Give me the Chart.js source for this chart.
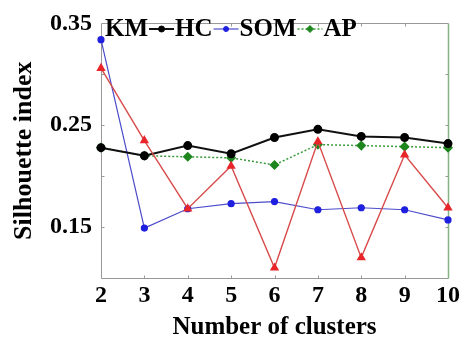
<!DOCTYPE html>
<html>
<head>
<meta charset="utf-8">
<script src="https://cdn.jsdelivr.net/npm/chart.js@4.4.0/dist/chart.umd.min.js"></script>
<style>
  html, body { margin: 0; padding: 0; background: #fff; }
  #wrap { width: 463px; height: 346px; }
</style>
</head>
<body>
<div id="wrap"><canvas id="myChart" width="463" height="346"></canvas></div>
<script>
var clusters = ['2', '3', '4', '5', '6', '7', '8', '9', '10'];
var km  = [0.306, 0.235, 0.168, 0.210, 0.110, 0.234, 0.120, 0.221, 0.169];
var hc  = [0.228, 0.220, 0.230, 0.222, 0.238, 0.246, 0.239, 0.238, 0.232];
var som = [0.334, 0.149, 0.168, 0.173, 0.175, 0.167, 0.169, 0.167, 0.157];
var ap  = [0.228, 0.220, 0.219, 0.218, 0.211, 0.231, 0.230, 0.229, 0.228];
var yLabels = [0.15, 0.25, 0.35];

var serif = '"Liberation Serif", "DejaVu Serif", serif';

// box round the plot with small inward ticks
var frame = {
  id: 'frame',
  beforeDatasetsDraw: function(chart) {
    var c = chart.ctx, a = chart.chartArea;
    var xs = chart.scales.x, ys = chart.scales.y;
    var l = Math.round(a.left) + 0.5, r = Math.round(a.right) + 0.5;
    var t = Math.round(a.top) + 0.5, b = Math.round(a.bottom) + 0.5;
    c.save();
    c.lineWidth = 1;
    c.strokeStyle = '#999999';
    c.beginPath();
    c.moveTo(r, t); c.lineTo(l, t); c.lineTo(l, b); c.lineTo(r, b);
    for (var v = 0.15; v < 0.35; v += 0.05) {
      var py = Math.round(ys.getPixelForValue(v)) + 0.5;
      c.moveTo(l, py); c.lineTo(l + 3, py);
      c.moveTo(r, py); c.lineTo(r - 3, py);
    }
    for (var i = 1; i < clusters.length - 1; i++) {
      var px = Math.round(xs.getPixelForValue(i)) + 0.5;
      c.moveTo(px, b); c.lineTo(px, b - 3);
      c.moveTo(px, t); c.lineTo(px, t + 3);
    }
    c.stroke();
    c.strokeStyle = '#86b386';
    c.lineWidth = 1.5;
    c.beginPath();
    c.moveTo(r, t); c.lineTo(r, b);
    c.stroke();
    c.restore();
  }
};

// legend inside the plot: text, then sample of next series
var legendIn = {
  id: 'legendIn',
  afterDatasetsDraw: function(chart) {
    var c = chart.ctx;
    var ds = chart.data.datasets;
    var x = 105, y = 29;
    c.save();
    c.font = 'bold 25px ' + serif;
    c.textBaseline = 'middle';
    for (var i = 0; i < ds.length; i++) {
      c.fillStyle = '#000';
      c.fillText(ds[i].label, x, y + 1);
      x += c.measureText(ds[i].label).width;
      var nx = ds[i + 1];
      if (!nx) break;
      var w = 27;
      c.beginPath();
      c.strokeStyle = nx.borderColor;
      c.lineWidth = nx.borderWidth;
      c.setLineDash(nx.borderDash || []);
      c.moveTo(x + 1, y); c.lineTo(x + w - 1, y);
      c.stroke();
      c.setLineDash([]);
      c.fillStyle = nx.pointBackgroundColor;
      c.strokeStyle = nx.pointBorderColor;
      c.lineWidth = 1;
      Chart.helpers.drawPoint(c, {pointStyle: nx.pointStyle, radius: nx.pointRadius - 0.5, borderWidth: 1, rotation: 0}, x + w / 2, y);
      x += w;
    }
    c.restore();
  }
};

var ctx = document.getElementById('myChart').getContext('2d');
var lineChart = new Chart(ctx, {
  type: 'line',
  data: {
    labels: clusters,
    datasets: [{
      label: 'KM',
      data: km,
      borderColor: '#d84a4a',
      borderWidth: 1.4,
      pointStyle: 'triangle',
      pointRadius: 4,
      pointBackgroundColor: '#e8262a',
      pointBorderColor: '#e8262a'
    }, {
      label: 'HC',
      data: hc,
      borderColor: '#111111',
      borderWidth: 2,
      pointStyle: 'circle',
      pointRadius: 3.5,
      pointBackgroundColor: '#000000',
      pointBorderColor: '#000000'
    }, {
      label: 'SOM',
      data: som,
      borderColor: '#4c4ccc',
      borderWidth: 1.2,
      pointStyle: 'circle',
      pointRadius: 3,
      pointBackgroundColor: '#1f1fe0',
      pointBorderColor: '#1f1fe0'
    }, {
      label: 'AP',
      data: ap,
      borderColor: '#3a9a3a',
      borderWidth: 1.5,
      borderDash: [2, 2],
      pointStyle: 'rectRot',
      pointRadius: 4,
      pointBackgroundColor: '#1e861e',
      pointBorderColor: '#1e861e'
    }]
  },
  options: {
    responsive: false,
    animation: false,
    clip: false,
    layout: { padding: { top: 16, right: 15, left: 0, bottom: 0 } },
    plugins: { legend: { display: false }, tooltip: { enabled: false } },
    elements: { line: { tension: 0 } },
    scales: {
      x: {
        type: 'category',
        offset: false,
        grid: { display: false, drawTicks: false },
        border: { display: false },
        ticks: {
          color: '#000',
          padding: 3,
          maxRotation: 0,
          autoSkip: false,
          font: { family: serif, size: 24, weight: 'bold' }
        },
        title: {
          display: true,
          text: 'Number of clusters',
          color: '#000',
          padding: { top: 0, bottom: 3 },
          font: { family: serif, size: 25, weight: 'bold' }
        },
        afterFit: function(s) { s.height = 68; }
      },
      y: {
        min: 0.10,
        max: 0.35,
        grid: { display: false, drawTicks: false },
        border: { display: false },
        ticks: {
          stepSize: 0.05,
          color: '#000',
          padding: 9,
          font: { family: serif, size: 24, weight: 'bold' },
          callback: function(v) {
            for (var i = 0; i < yLabels.length; i++) {
              if (Math.abs(v - yLabels[i]) < 1e-6) return yLabels[i].toFixed(2);
            }
            return '';
          }
        },
        title: {
          display: true,
          text: 'Silhouette index',
          color: '#000',
          padding: { top: 9, bottom: 0 },
          font: { family: serif, size: 26, weight: 'bold' }
        },
        afterFit: function(s) { s.width = 101; }
      }
    }
  },
  plugins: [frame, legendIn]
});
</script>
</body>
</html>
